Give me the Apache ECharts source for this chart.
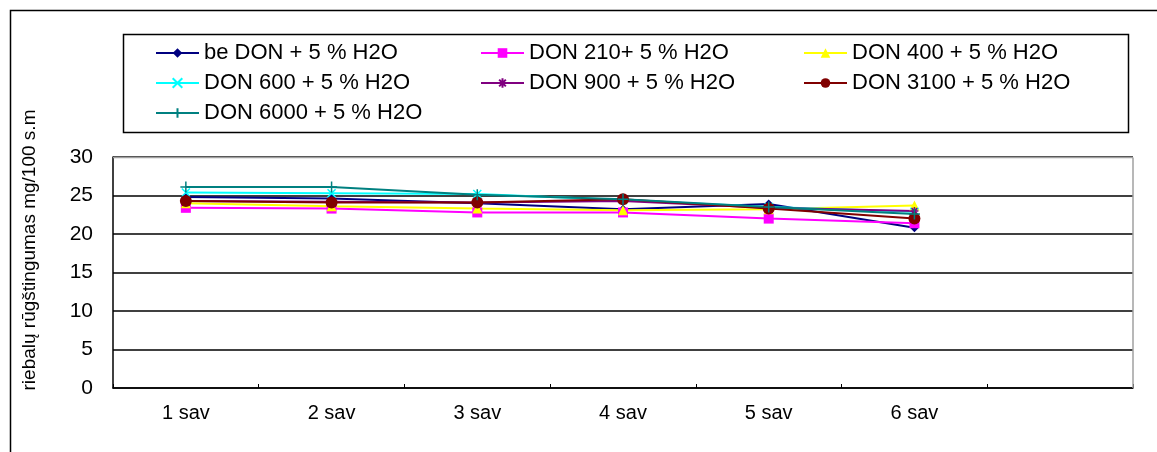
<!DOCTYPE html>
<html>
<head>
<meta charset="utf-8">
<script src="https://cdn.jsdelivr.net/npm/echarts@6/dist/echarts.min.js"></script>
<style>html,body{margin:0;padding:0;background:#fff}#c{width:1157px;height:452px}</style>
</head>
<body>
<div id="c"></div>
<script>
const categories = ['1 sav', '2 sav', '3 sav', '4 sav', '5 sav', '6 sav', ''];
const yTicks = [0, 5, 10, 15, 20, 25, 30];
const yAxisTitle = 'riebalų rūgštingumas mg/100 s.m';
const seriesNames = ['be DON + 5 % H2O', 'DON 210+ 5 % H2O', 'DON 400 + 5 % H2O', 'DON 600 + 5 % H2O', 'DON 900 + 5 % H2O', 'DON 3100 + 5 % H2O', 'DON 6000 + 5 % H2O'];
const beDON = [24.8, 24.6, 24.0, 23.2, 23.9, 20.8];
const don210 = [23.4, 23.3, 22.8, 22.8, 22.0, 21.4];
const don400 = [24.0, 23.6, 23.3, 23.1, 23.2, 23.7];
const don600 = [25.4, 25.3, 25.2, 24.4, 23.5, 22.9];
const don900 = [24.3, 24.2, 24.1, 24.3, 23.4, 23.0];
const don3100 = [24.3, 24.1, 24.1, 24.5, 23.3, 22.0];
const don6000 = [26.1, 26.1, 25.1, 24.5, 23.5, 22.6];

const xPath = 'path://M0,0L10,10M10,0L0,10';
const plusPath = 'path://M5,0L5,10M0,5L10,5';
const starPath = 'path://M5,0L5,10M0,5L10,5M1.5,1.5L8.5,8.5M8.5,1.5L1.5,8.5';

const styles = [
  {data: beDON, color: '#000080', symbol: 'diamond', size: 9},
  {data: don210, color: '#FF00FF', symbol: 'rect', size: 10},
  {data: don400, color: '#FFFF00', symbol: 'triangle', size: 10},
  {data: don600, color: '#00FFFF', symbol: xPath, size: 8, stroke: true},
  {data: don900, color: '#800080', symbol: starPath, size: 8, stroke: true},
  {data: don3100, color: '#800000', symbol: 'circle', size: 12},
  {data: don6000, color: '#008080', symbol: plusPath, size: 11, stroke: true}
];

const FONT = 'Liberation Sans, Arial, sans-serif';

const series = styles.map((s, i) => ({
  name: seriesNames[i],
  type: 'line',
  data: s.data,
  symbol: s.symbol,
  symbolSize: s.size,
  showAllSymbol: true,
  animation: false,
  lineStyle: {color: s.color, width: 2},
  itemStyle: s.stroke ? {color: 'none', borderColor: s.color, borderWidth: 1.5} : {color: s.color, borderColor: s.color, borderWidth: 0},
  emphasis: {disabled: true}
}));

const legendBase = {
  orient: 'vertical',
  itemWidth: 43,
  itemHeight: 12,
  itemGap: 8,
  padding: 0,
  textStyle: {fontFamily: FONT, fontSize: 22, color: '#000', lineHeight: 22},
  selectedMode: false
};

const chart = echarts.init(document.getElementById('c'), null, {renderer: 'canvas'});
chart.setOption({
  animation: false,
  backgroundColor: '#fff',
  graphic: [
    {type: 'rect', shape: {x: 10.5, y: 10.5, width: 1170, height: 470}, style: {fill: 'none', stroke: '#000', lineWidth: 1.5}, silent: true},
    {type: 'rect', shape: {x: 123.5, y: 34.5, width: 1005, height: 98}, style: {fill: 'none', stroke: '#000', lineWidth: 1.5}, silent: true},
    {type: 'line', shape: {x1: 113, y1: 157.5, x2: 1133, y2: 157.5}, style: {stroke: '#a0a0a0', lineWidth: 1.5}, silent: true, z: 10},
    {type: 'line', shape: {x1: 1133, y1: 157.5, x2: 1133, y2: 388}, style: {stroke: '#a0a0a0', lineWidth: 1.5}, silent: true, z: 10},
    {type: 'text', x: 30, y: 250, rotation: Math.PI / 2, silent: true,
     style: {text: yAxisTitle, fontFamily: FONT, fontSize: 19, fill: '#000', align: 'center', verticalAlign: 'middle'}}
  ],
  legend: [
    Object.assign({}, legendBase, {left: 155, top: 42, data: [seriesNames[0], seriesNames[3], seriesNames[6]]}),
    Object.assign({}, legendBase, {left: 480, top: 42, data: [seriesNames[1], seriesNames[4]]}),
    Object.assign({}, legendBase, {left: 803, top: 42, data: [seriesNames[2], seriesNames[5]]})
  ],
  grid: {left: 113, right: 24, top: 157, bottom: 64, containLabel: false},
  xAxis: {
    type: 'category',
    data: categories,
    boundaryGap: true,
    axisLine: {lineStyle: {color: '#000', width: 1.5}},
    axisTick: {show: true, inside: true, length: 4, lineStyle: {color: '#000'}},
    axisLabel: {fontFamily: FONT, fontSize: 20, color: '#000', margin: 15},
    splitLine: {show: false}
  },
  yAxis: {
    type: 'value',
    min: yTicks[0],
    max: yTicks[yTicks.length - 1],
    interval: 5,
    axisLine: {show: true, lineStyle: {color: '#000', width: 1.5}},
    axisTick: {show: false},
    axisLabel: {fontFamily: FONT, fontSize: 21, color: '#000', margin: 20},
    splitLine: {show: true, lineStyle: {color: '#000', width: 1.5}}
  },
  series: series
});
</script>
</body>
</html>
